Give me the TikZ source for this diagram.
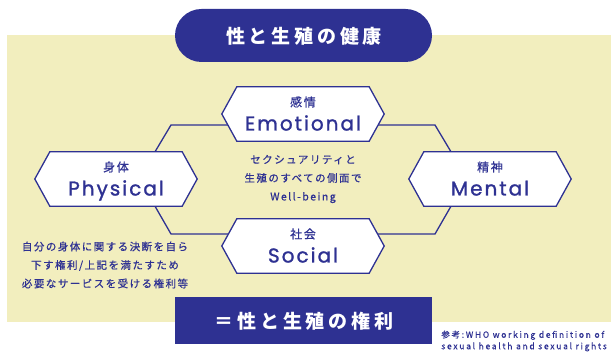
\documentclass[tikz,border=0pt]{standalone}
\usepackage{fontspec}
\usetikzlibrary{calc}
\newfontfamily\jpT[LetterSpace=20]{Noto Sans CJK JP}
\newfontfamily\jpS[LetterSpace=14,FakeBold=0.6]{Noto Sans CJK JP}
\newfontfamily\jpR[LetterSpace=20,FakeBold=0.6]{Noto Sans CJK JP}
\newfontfamily\popF[LetterSpace=10,FakeBold=1.2]{Poppins}
\definecolor{navy}{HTML}{2E3192}
\definecolor{cream}{HTML}{F2EEBE}
\newcommand\hexdraw[1]{\path[hexshape] (#1.north west) -- (#1.north east) -- ($(#1.east)+(15,0)$) -- (#1.south east) -- (#1.south west) -- ($(#1.west)+(-15,0)$) -- cycle;}
\begin{document}
\begin{tikzpicture}[x=1pt,y=-1pt,
  core/.style={rectangle, minimum width=132pt, minimum height=54pt, inner sep=0pt},
  hexshape/.style={draw=navy, fill=white, line width=1.3pt},
  conn/.style={draw=navy, line width=1.3pt},
  smalllbl/.style={text=navy, font=\jpS\fontsize{12}{12}\selectfont, inner sep=0pt},
  biglbl/.style={text=navy, font=\popF\fontsize{20}{20}\selectfont, anchor=base, inner sep=0pt},
  bodytext/.style={text=navy, font=\jpS\fontsize{10.5}{18.5}\selectfont, align=center, inner sep=0pt},
  titlebox/.style={fill=navy, draw=none},
  titletext/.style={text=white, font=\jpT\bfseries\fontsize{19}{19}\selectfont, inner sep=0pt}
]
\useasboundingbox (0,0) rectangle (611,352);
\fill[cream] (7,35) rectangle (611,322);
% title pill
\fill[titlebox, rounded corners=26.5pt] (175,9) rectangle (432,62);
\node[titletext] (title) at (304,36) {性と生殖の健康};
% bottom box
\fill[titlebox] (175,297) rectangle (432,344);
\node[titletext] (rights) at (304,321) {＝性と生殖の権利};
% hexagon cores
\node[core] (emo) at (303,114) {};
\node[core] (phys) at (116,179) {};
\node[core] (ment) at (490,179) {};
\node[core] (soc) at (303,246) {};
% connectors
\draw[conn] ($(phys.north)+(39,0)$) -- (171,125) -- ($(emo.center)+(0,11)$);
\draw[conn] ($(phys.south)+(39,0)$) -- (171,234) -- ($(soc.center)+(0,-12)$);
\draw[conn] ($(ment.north)+(-39,0)$) -- (435,125) -- ($(emo.center)+(0,11)$);
\draw[conn] ($(ment.south)+(-39,0)$) -- (435,234) -- ($(soc.center)+(0,-12)$);
% hexagons
\hexdraw{emo}
\hexdraw{phys}
\hexdraw{ment}
\hexdraw{soc}
% labels
\node[smalllbl] (emo-s) at ($(emo.center)+(0,-12)$) {感情};
\node[biglbl] (emo-b) at ($(emo.center)+(0,16.5)$) {Emotional};
\node[smalllbl] (phys-s) at ($(phys.center)+(0,-12)$) {身体};
\node[biglbl] (phys-b) at ($(phys.center)+(0,16.5)$) {Physical};
\node[smalllbl] (ment-s) at ($(ment.center)+(0,-12)$) {精神};
\node[biglbl] (ment-b) at ($(ment.center)+(0,16.5)$) {Mental};
\node[smalllbl] (soc-s) at ($(soc.center)+(0,-12)$) {社会};
\node[biglbl] (soc-b) at ($(soc.center)+(0,16.5)$) {Social};
% texts
\node[bodytext] (center) at (303,179) {セクシュアリティと\\生殖のすべての側面で\\Well-being};
\node[bodytext] (left) at (105,265) {自分の身体に関する決断を自ら\\下す権利/上記を満たすため\\必要なサービスを受ける権利等};
\node[text=navy, font=\jpR\fontsize{8.5}{11.5}\selectfont, align=left, anchor=east, inner sep=0pt] (ref) at (607,341) {参考:WHO working definition of\\sexual health and sexual rights};
\end{tikzpicture}
\end{document}
